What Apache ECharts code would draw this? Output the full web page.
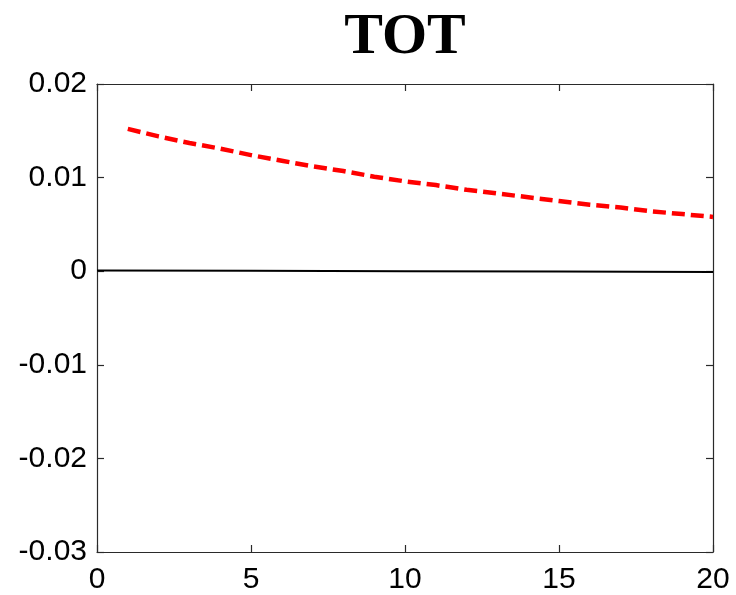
<!DOCTYPE html>
<html>
<head>
<meta charset="utf-8">
<script src="https://cdn.jsdelivr.net/npm/echarts@6/dist/echarts.min.js"></script>
<style>
html,body{margin:0;padding:0;background:#fff;}
#chart{width:736px;height:595px;}
</style>
</head>
<body>
<div id="chart"></div>
<script>
const titleText = 'TOT';
const xTicks = [0, 5, 10, 15, 20];
const yTicks = [-0.03, -0.02, -0.01, 0, 0.01, 0.02];
const redX = [1,2,3,4,5,6,7,8,9,10,11,12,13,14,15,16,17,18,19,20];
const redY = [0.0152,0.0144,0.0137,0.0131,0.0124,0.0118,0.0112,0.0107,0.0101,0.0096,
              0.0092,0.0087,0.0083,0.0079,0.0075,0.0071,0.0068,0.0064,0.0061,0.0058];
const blackX = [0, 5, 10, 15, 20];
const blackY = [0.00008, 0.00004, 0.0, -0.00004, -0.00008];

const chart = echarts.init(document.getElementById('chart'));
const axisColor = '#2a2a2a';
const labelFont = {fontFamily:'Liberation Sans, Arial, sans-serif', fontSize:30, color:'#000'};
function axLine(){return {show:true,onZero:false,lineStyle:{color:axisColor,width:1.2}};}
function axTick(){return {show:true,inside:true,length:7,lineStyle:{color:axisColor,width:1.2}};}
chart.setOption({
  animation:false,
  backgroundColor:'#fff',
  title:{text:titleText,left:400,textAlign:'center',top:4,
    textStyle:{fontFamily:'Liberation Serif, Times New Roman, serif',fontWeight:'bold',fontSize:58,color:'#000'}},
  grid:{left:97,right:23,top:84,bottom:42,containLabel:false},
  xAxis:[
    {type:'value',min:xTicks[0],max:xTicks[xTicks.length-1],interval:5,position:'bottom',
     axisLine:axLine(),axisTick:axTick(),
     axisLabel:Object.assign({margin:13},labelFont),splitLine:{show:false}},
    {type:'value',min:xTicks[0],max:xTicks[xTicks.length-1],interval:5,position:'top',
     axisLine:axLine(),axisTick:axTick(),
     axisLabel:{show:false},splitLine:{show:false}}
  ],
  yAxis:[
    {type:'value',min:yTicks[0],max:yTicks[yTicks.length-1],interval:0.01,position:'left',
     axisLine:axLine(),axisTick:axTick(),
     axisLabel:Object.assign({margin:10,formatter:v=>{const r=Math.round(v*100)/100;return r===0?'0':r.toFixed(2);}},labelFont),
     splitLine:{show:false}},
    {type:'value',min:yTicks[0],max:yTicks[yTicks.length-1],interval:0.01,position:'right',
     axisLine:axLine(),axisTick:axTick(),
     axisLabel:{show:false},splitLine:{show:false}}
  ],
  series:[
    {type:'line',xAxisIndex:0,yAxisIndex:0,data:blackX.map((x,i)=>[x,blackY[i]]),
     showSymbol:false,symbol:'none',lineStyle:{color:'#000',width:2}},
    {type:'line',xAxisIndex:0,yAxisIndex:0,data:redX.map((x,i)=>[x,redY[i]]),
     showSymbol:false,symbol:'none',lineStyle:{color:'#ff0000',width:4.5,type:[13,6]}}
  ]
});
</script>
</body>
</html>
